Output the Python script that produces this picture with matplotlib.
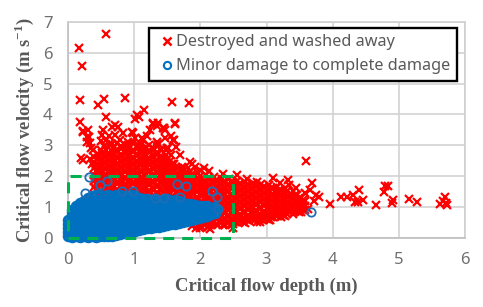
import matplotlib
matplotlib.use("Agg")
import matplotlib.pyplot as plt
from matplotlib.lines import Line2D

W, H = 483, 307
plt.rcParams['mathtext.fontset'] = 'custom'
plt.rcParams['mathtext.rm'] = 'Liberation Serif:bold'

legend_labels = ["Destroyed and washed away", "Minor damage to complete damage"]
x_label = "Critical flow depth (m)"
y_label = r"Critical flow velocity (m s$^{\mathrm{-1}}$)"
x_ticks = [0, 1, 2, 3, 4, 5, 6]
y_ticks = [0, 1, 2, 3, 4, 5, 6, 7]
box_x = [0, 2.5, 2.5, 0, 0]
box_y = [0, 0, 2.0, 2.0, 0]

red_out_x = [0.57,0.17,0.21,0.18,0.46,0.54,0.86,1.57,1.83,1.15,1.01,1.07,1.04,0.57,0.18,1.62,0.71,0.76,1.29,1.35,1.44,1.47,1.24,0.23,0.30,0.53,0.29,0.33,0.83,0.98,1.59,0.20,0.22,0.35,0.50,0.62,0.66,0.90,1.12,1.20,1.36,1.50,1.55,1.63,1.70,1.85,1.92,2.05,2.13,
             3.6,3.1,3.33,3.69,2.85,3.65,3.8,3.72,3.96,4.12,4.21,4.40,4.30,4.33,4.38,4.46,4.66,4.77,4.79,4.84,4.91,4.89,5.16,5.27,5.62,5.70,5.71,5.73,5.66,3.45,3.58,2.55,2.7,3.2,3.75,3.62,2.35,2.15,2.5,2.9,3.05,
             0.23,0.31,0.28,0.38,0.51,0.66,0.71,0.58,0.79,0.96,1.01,1.36,1.29,1.45,1.62,1.60,1.47,1.51,1.34,1.14,1.06,0.91,1.87,1.74,1.59,1.99,
             0.55,0.62,0.68,0.74,0.80,0.86,0.92,0.98,1.04,1.10,1.16,1.22,1.28,1.34,1.40,0.45,0.50,0.40,1.48,1.55,0.34,0.36]
red_out_y = [6.61,6.15,5.57,4.47,4.31,4.50,4.53,4.41,4.37,4.15,3.85,3.92,3.98,3.92,3.76,3.69,3.66,3.60,3.69,3.62,3.56,3.50,3.50,3.43,3.50,3.50,3.27,3.07,3.39,3.39,3.17,2.59,2.52,2.92,3.15,3.30,3.05,3.10,3.22,3.30,3.05,2.90,3.30,2.95,2.70,2.45,2.30,2.25,2.15,
             2.50,1.93,1.87,1.76,1.82,1.55,1.33,1.20,1.09,1.31,1.33,1.55,1.39,1.17,1.17,1.22,1.06,1.49,1.68,1.68,1.22,1.11,1.25,1.17,1.09,1.33,1.14,1.06,1.18,1.62,1.45,2.02,1.92,1.78,1.40,0.92,2.08,0.28,0.33,0.50,0.58,
             3.47,3.28,3.12,2.85,3.33,3.59,3.33,3.17,3.17,3.44,3.23,3.72,3.72,3.56,3.72,3.17,3.23,2.90,3.10,3.17,3.00,3.00,2.39,2.26,2.26,2.20,
             2.98,3.04,2.92,3.08,2.96,3.02,2.90,3.06,2.94,3.00,2.90,3.02,2.92,2.96,2.85,2.72,2.84,2.62,2.85,2.70,2.55,2.40]

red_col_x = [0.40,0.46,0.52,0.58,0.64,0.70,0.76,0.82,0.88,0.94,1.00,1.06,1.12,1.18,1.24,1.30,1.36,1.42,1.48,1.54,1.60,1.66,1.72,1.78,1.84,1.90,1.96,2.02,2.08,2.14,2.20,2.26,2.32,2.38,2.44,2.50,2.56,2.62,2.68,2.74,2.80,2.86,2.92,2.98,3.04,3.10,3.16,3.22,3.28,3.34,3.40,3.46,3.52,3.58]
red_col_v = [
 [2.45,2.25,2.05,1.85,1.65],
 [2.6,2.4,2.2,2.0,1.8,1.6],
 [2.75,2.55,2.35,2.15,1.95,1.75,1.5],
 [2.85,2.62,2.42,2.22,2.02,1.82,1.6],
 [2.7,2.5,2.3,2.1,1.9,1.7,1.5],
 [2.95,2.72,2.5,2.3,2.1,1.9,1.65],
 [2.8,2.6,2.4,2.2,2.0,1.8,1.55],
 [2.9,2.65,2.45,2.25,2.05,1.85,1.6],
 [2.75,2.55,2.35,2.15,1.95,1.75,1.5],
 [2.95,2.7,2.5,2.3,2.1,1.9,1.65],
 [2.8,2.6,2.4,2.2,2.0,1.8,1.55],
 [2.9,2.68,2.45,2.25,2.05,1.85,1.6],
 [2.8,2.58,2.38,2.18,1.98,1.78,1.5],
 [2.95,2.7,2.48,2.28,2.08,1.88,1.62],
 [2.78,2.55,2.35,2.15,1.95,1.75,1.5],
 [2.85,2.62,2.42,2.22,2.02,1.82,1.55],
 [2.72,2.5,2.3,2.1,1.9,1.7,1.45],
 [2.6,2.4,2.2,2.0,1.8,1.55],
 [2.7,2.48,2.28,2.08,1.88,1.65,1.4],
 [2.5,2.3,2.1,1.9,1.7,1.45],
 [2.38,2.18,1.98,1.78,1.55,1.3],
 [2.25,2.05,1.85,1.65,1.42],
 [2.3,2.1,1.9,1.7,1.48,1.25],
 [2.12,1.92,1.72,1.52,1.3],
 [2.18,1.98,1.78,1.58,1.35,1.1],
 [2.02,1.82,1.62,1.42,1.2,0.5],
 [2.1,1.9,1.7,1.5,1.28,0.42,0.6],
 [1.95,1.75,1.55,1.35,1.12,0.55,0.35],
 [2.02,1.82,1.62,1.42,1.2,0.7,0.48],
 [1.9,1.7,1.5,1.3,1.05,0.62,0.4],
 [1.98,1.78,1.58,1.38,1.18,0.98,0.75,0.55],
 [1.85,1.65,1.45,1.25,1.05,0.85,0.65,0.42],
 [1.92,1.72,1.52,1.32,1.12,0.92,0.72,0.5],
 [1.82,1.62,1.42,1.22,1.02,0.82,0.62,0.4],
 [1.9,1.7,1.5,1.3,1.1,0.9,0.7,0.5],
 [1.8,1.6,1.4,1.2,1.0,0.8,0.6,0.44],
 [1.85,1.65,1.45,1.25,1.05,0.85,0.65,0.5],
 [1.75,1.55,1.35,1.15,0.95,0.75,0.56],
 [1.82,1.62,1.42,1.22,1.02,0.82,0.62,0.48],
 [1.72,1.52,1.32,1.12,0.92,0.72,0.55],
 [1.78,1.58,1.38,1.18,0.98,0.78,0.6],
 [1.68,1.48,1.28,1.08,0.88,0.68,0.52],
 [1.75,1.55,1.35,1.15,0.95,0.75,0.6],
 [1.65,1.45,1.25,1.05,0.85,0.66],
 [1.7,1.5,1.3,1.1,0.9,0.72,0.58],
 [1.6,1.42,1.22,1.02,0.82,0.66],
 [1.65,1.45,1.25,1.05,0.88,0.7],
 [1.55,1.38,1.18,1.0,0.82,0.68],
 [1.6,1.42,1.22,1.04,0.86,0.72],
 [1.7,1.35,1.15,0.98,0.82],
 [1.5,1.3,1.1,0.94,0.78],
 [1.38,1.2,1.02,0.88],
 [1.28,1.1,0.95,0.82],
 [1.2,1.02,0.9],
]

# second pass of readings lying between those above
red_mid_x = [0.43,0.49,0.55,0.61,0.67,0.73,0.79,0.85,0.91,0.97,1.03,1.09,1.15,1.21,1.27,1.33,1.39,1.45,1.51,1.57,1.63,1.69,1.75,1.81,1.87,1.93,1.99,2.05,2.11,2.17,2.23,2.29,2.35,2.41,2.47,2.53,2.59,2.65,2.71,2.77,2.83,2.89,2.95,3.01,3.07,3.13,3.19,3.25,3.31,3.37,3.43,3.49,3.55]
red_mid_v = [
 [2.35,2.15,1.95,1.75,1.55],
 [2.5,2.3,2.1,1.9,1.7,1.5],
 [2.65,2.45,2.25,2.05,1.85,1.62],
 [2.72,2.52,2.32,2.12,1.92,1.72,1.5],
 [2.82,2.6,2.4,2.2,2.0,1.8,1.58],
 [2.85,2.62,2.4,2.2,2.0,1.78,1.52],
 [2.7,2.5,2.3,2.1,1.9,1.68],
 [2.78,2.55,2.35,2.15,1.95,1.72,1.52],
 [2.85,2.62,2.42,2.22,2.02,1.82,1.58],
 [2.82,2.6,2.4,2.2,2.0,1.78,1.5],
 [2.72,2.5,2.3,2.1,1.9,1.68],
 [2.78,2.56,2.35,2.15,1.95,1.72,1.52],
 [2.85,2.62,2.42,2.22,2.02,1.82,1.56],
 [2.82,2.6,2.38,2.18,1.98,1.78,1.5],
 [2.68,2.45,2.25,2.05,1.85,1.62],
 [2.75,2.52,2.32,2.12,1.92,1.68,1.45],
 [2.6,2.4,2.2,2.0,1.8,1.58],
 [2.58,2.38,2.18,1.98,1.76,1.52],
 [2.58,2.38,2.18,1.98,1.78,1.55],
 [2.4,2.2,2.0,1.8,1.58,1.35],
 [2.3,2.08,1.88,1.68,1.45],
 [2.2,2.0,1.8,1.6,1.38],
 [2.2,2.0,1.8,1.58,1.35],
 [2.05,1.85,1.65,1.42,1.2],
 [2.08,1.88,1.68,1.46,1.22,0.38],
 [1.92,1.72,1.52,1.3,1.1,0.32],
 [2.0,1.8,1.6,1.38,1.16,0.5,0.32],
 [1.85,1.65,1.45,1.24,0.62,0.42],
 [1.92,1.72,1.52,1.3,1.1,0.52,0.36],
 [1.8,1.6,1.4,1.18,0.96,0.72,0.48],
 [1.88,1.68,1.48,1.28,1.08,0.88,0.62,0.44],
 [1.75,1.55,1.35,1.15,0.95,0.75,0.54],
 [1.82,1.62,1.42,1.22,1.02,0.82,0.6,0.42],
 [1.72,1.52,1.32,1.12,0.92,0.72,0.5],
 [1.8,1.6,1.4,1.2,1.0,0.8,0.6,0.46],
 [1.7,1.5,1.3,1.1,0.9,0.7,0.52],
 [1.75,1.55,1.35,1.15,0.95,0.75,0.56],
 [1.65,1.45,1.25,1.05,0.85,0.65,0.5],
 [1.72,1.52,1.32,1.12,0.92,0.72,0.56],
 [1.62,1.42,1.22,1.02,0.82,0.63],
 [1.68,1.48,1.28,1.08,0.88,0.68,0.56],
 [1.58,1.38,1.18,0.98,0.78,0.62],
 [1.65,1.45,1.25,1.05,0.85,0.68],
 [1.55,1.35,1.15,0.95,0.78,0.62],
 [1.6,1.4,1.2,1.0,0.8,0.66],
 [1.52,1.32,1.12,0.92,0.74],
 [1.55,1.35,1.15,0.96,0.78],
 [1.46,1.28,1.08,0.9,0.74],
 [1.52,1.32,1.12,0.94,0.78],
 [1.42,1.25,1.06,0.9],
 [1.4,1.2,1.02,0.86],
 [1.3,1.12,0.96,0.84],
 [1.22,1.05,0.9],
]

blue_out_x = [0.32,0.48,0.59,1.65,1.78,2.17,2.25,2.27,0.98,0.81,0.26,1.69,3.68,1.45,1.32]
blue_out_y = [1.98,1.71,1.84,1.74,1.68,1.52,1.32,0.93,1.53,1.53,1.45,1.32,0.85,1.28,1.30]

blue_col_x = [0.0,0.06,0.12,0.18,0.24,0.30,0.36,0.42,0.48,0.54,0.60,0.66,0.72,0.78,0.84,0.90,0.96,1.02,1.08,1.14,1.20,1.26,1.32,1.38,1.44,1.50,1.56,1.62,1.68,1.74,1.80,1.86,1.92,1.98,2.04,2.10,2.16,2.22]
blue_col_v = [
 [0.04,0.18,0.32,0.46,0.58],
 [0.03,0.15,0.28,0.41,0.54,0.67,0.80,0.90],
 [0.05,0.18,0.31,0.44,0.57,0.70,0.83,0.96,1.04],
 [0.03,0.16,0.29,0.42,0.55,0.68,0.81,0.94,1.07,1.12],
 [0.05,0.18,0.31,0.44,0.57,0.70,0.83,0.96,1.09,1.20],
 [0.03,0.16,0.29,0.42,0.55,0.68,0.81,0.94,1.07,1.20,1.28],
 [0.05,0.18,0.31,0.44,0.57,0.70,0.83,0.96,1.09,1.22,1.35],
 [0.03,0.16,0.29,0.42,0.55,0.68,0.81,0.94,1.07,1.20,1.38],
 [0.05,0.18,0.31,0.44,0.57,0.70,0.83,0.96,1.09,1.22,1.40],
 [0.04,0.16,0.29,0.42,0.55,0.68,0.81,0.94,1.07,1.20,1.34],
 [0.05,0.18,0.31,0.44,0.57,0.70,0.83,0.96,1.09,1.22,1.38],
 [0.07,0.19,0.32,0.45,0.58,0.71,0.84,0.97,1.10,1.23,1.35],
 [0.10,0.22,0.35,0.48,0.61,0.74,0.87,1.00,1.13,1.26,1.38],
 [0.12,0.24,0.37,0.50,0.63,0.76,0.89,1.02,1.15,1.28,1.40],
 [0.15,0.27,0.40,0.53,0.66,0.79,0.92,1.05,1.18,1.30,1.36],
 [0.18,0.30,0.43,0.56,0.69,0.82,0.95,1.08,1.21,1.33],
 [0.20,0.33,0.46,0.59,0.72,0.85,0.98,1.11,1.24,1.38],
 [0.22,0.34,0.47,0.60,0.73,0.86,0.99,1.12,1.25,1.34],
 [0.25,0.37,0.50,0.63,0.76,0.89,1.02,1.15,1.28],
 [0.27,0.39,0.52,0.65,0.78,0.91,1.04,1.17,1.26],
 [0.30,0.42,0.55,0.68,0.81,0.94,1.07,1.20,1.24],
 [0.32,0.44,0.57,0.70,0.83,0.96,1.09,1.20],
 [0.34,0.46,0.59,0.72,0.85,0.98,1.11,1.22],
 [0.36,0.48,0.61,0.74,0.87,1.00,1.13,1.18],
 [0.38,0.50,0.63,0.76,0.89,1.02,1.15,1.22],
 [0.40,0.52,0.65,0.78,0.91,1.04,1.17,1.24],
 [0.43,0.55,0.68,0.81,0.94,1.07,1.20],
 [0.45,0.57,0.70,0.83,0.96,1.09,1.22],
 [0.48,0.60,0.73,0.86,0.99,1.12,1.18],
 [0.52,0.64,0.77,0.90,1.03,1.12],
 [0.55,0.67,0.80,0.93,1.06,1.10],
 [0.58,0.70,0.83,0.96,1.09],
 [0.60,0.72,0.85,0.98,1.06],
 [0.64,0.76,0.89,1.02],
 [0.68,0.80,0.93,1.04],
 [0.72,0.84,0.97,1.02],
 [0.76,0.88,0.98],
 [0.80,0.92,1.00],
]

RED = "#FF0000"; BLUE = "#0070C0"; GREEN = "#00B050"; GREY = "#595959"

fig = plt.figure(figsize=(W/100, H/100), dpi=100)
ax = fig.add_axes([68/W, 1-237.7/H, (465-68)/W, (237.7-22)/H])
ax.set_xlim(0, 6); ax.set_ylim(0, 7)
ax.set_xticks(x_ticks); ax.set_yticks(y_ticks)
ax.grid(True, color="#D0D0D0", lw=1.1, zorder=0)
ax.set_axisbelow(True)
for name, s in ax.spines.items():
    s.set_color("#D0D0D0" if name in ("top", "right") else "#BFBFBF")
    s.set_linewidth(1.2)
ax.tick_params(axis="x", length=0, labelsize=12, labelcolor="#707070", pad=10)
ax.tick_params(axis="y", length=0, labelsize=12, labelcolor="#707070", pad=11)
for t in ax.get_xticklabels() + ax.get_yticklabels():
    t.set_family("Noto Sans")

red_style = dict(ls="none", marker="x", ms=6.2, mew=1.6, color=RED, clip_on=False, zorder=3)
blue_mass = dict(ls="none", marker="o", ms=6.0, mew=2.3, mfc="none", color=BLUE, clip_on=False, zorder=4)
blue_ring = dict(ls="none", marker="o", ms=6.0, mew=1.3, mfc="none", color="#1F6DB5", clip_on=False, zorder=4)

ax.plot(red_out_x, red_out_y, **red_style)
for x, vs in zip(red_col_x, red_col_v):
    ax.plot([x]*len(vs), vs, **red_style)
for x, vs in zip(red_mid_x, red_mid_v):
    ax.plot([x]*len(vs), vs, **red_style)
for x, vs in zip(blue_col_x, blue_col_v):
    ax.plot([x]*len(vs), vs, **blue_mass)
ax.plot(blue_out_x, blue_out_y, **blue_ring)

ax.plot(box_x, box_y, color=GREEN, lw=2.2, ls=(0, (3.6, 2.6)), clip_on=False, zorder=5)

ax.set_xlabel(x_label, family="Liberation Serif", weight="bold", fontsize=13.4, color=GREY, labelpad=7)
ax.set_ylabel(y_label, family="Liberation Serif", weight="bold", fontsize=13.4, color=GREY, labelpad=5)

handles = [Line2D([], [], ls="none", marker="x", ms=5.6, mew=1.8, color=RED),
           Line2D([], [], ls="none", marker="o", ms=5.2, mew=1.5, mfc="none", color=BLUE)]
leg = ax.legend(handles, legend_labels, loc="upper left",
                bbox_to_anchor=((148.5-68)/(465-68), 1-(27.5-22)/(237.7-22)),
                borderaxespad=0, fancybox=False, framealpha=1, edgecolor="black",
                prop={"family": "Noto Sans", "size": 11.7}, labelcolor=GREY,
                handletextpad=-0.15, labelspacing=0.5, borderpad=0.42, handlelength=1.4)
leg.get_frame().set_linewidth(1.7)
leg.set_zorder(10)
fig.savefig("out.png", dpi=100)
